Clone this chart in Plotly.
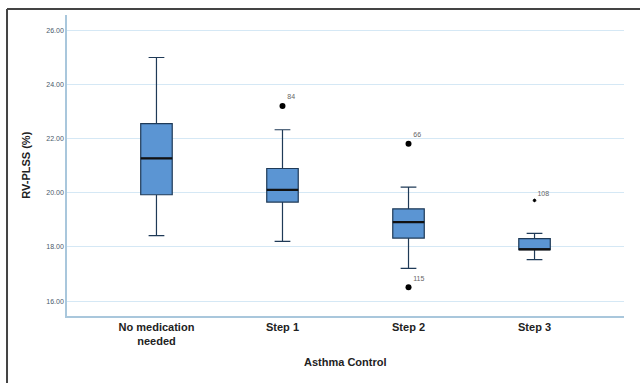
import plotly.graph_objects as go

categories = ["No medication<br>needed", "Step 1", "Step 2", "Step 3"]
lower_whisker = [18.42, 18.21, 17.21, 17.53]
q1 = [19.93, 19.66, 18.33, 17.90]
median = [21.27, 20.11, 18.92, 17.91]
q3 = [22.56, 20.90, 19.41, 18.31]
upper_whisker = [25.00, 22.33, 20.21, 18.50]

outlier_cat = ["Step 1", "Step 2", "Step 2"]
outlier_val = [23.21, 21.81, 16.51]
outlier_lbl = ["84", "66", "115"]
extreme_cat = ["Step 3"]
extreme_val = [19.72]
extreme_lbl = ["108"]

ytick_vals = [16, 18, 20, 22, 24, 26]
ytick_text = ["16.00", "18.00", "20.00", "22.00", "24.00", "26.00"]

BOX_FILL = "#5b95d3"
BOX_LINE = "#1f3a57"
FONT = "Liberation Sans, Arial, sans-serif"

fig = go.Figure()
fig.add_trace(go.Box(
    x=categories, q1=q1, median=median, q3=q3,
    lowerfence=lower_whisker, upperfence=upper_whisker,
    fillcolor=BOX_FILL, line=dict(color=BOX_LINE, width=1.2),
    width=0.25, whiskerwidth=0.5, boxpoints=False, showlegend=False,
    hoverinfo="skip",
))
# thicker median lines
for i, m in enumerate(median):
    fig.add_shape(type="line", xref="x", yref="y", x0=i - 0.125, x1=i + 0.125,
                  y0=m, y1=m, line=dict(color="#111111", width=2.2))

fig.add_trace(go.Scatter(
    x=outlier_cat, y=outlier_val, mode="markers+text", text=outlier_lbl,
    textposition="top right", textfont=dict(size=7, color="#666666", family=FONT),
    marker=dict(color="black", size=6), showlegend=False, hoverinfo="skip",
))
fig.add_trace(go.Scatter(
    x=extreme_cat, y=extreme_val, mode="markers+text", text=extreme_lbl,
    textposition="top right", textfont=dict(size=7, color="#666666", family=FONT),
    marker=dict(color="black", size=3, symbol="asterisk-open",
                line=dict(color="black", width=1)),
    showlegend=False, hoverinfo="skip",
))

fig.update_layout(
    width=640, height=383,
    margin=dict(l=67, r=16, t=15, b=66.5, autoexpand=False),
    paper_bgcolor="white", plot_bgcolor="white",
    font=dict(family=FONT, color="#222222"),
    xaxis=dict(
        type="category", range=[-0.71, 3.71], automargin=False,
        showgrid=False, showline=True, linecolor="#a9c7dc", linewidth=1.5,
        ticks="", tickfont=dict(size=11, color="#222222", family=FONT),
        tickprefix="<b>", ticksuffix="</b>",
    ),
    yaxis=dict(
        range=[15.45, 26.57], tickvals=ytick_vals, ticktext=ytick_text, automargin=False,
        showgrid=True, gridcolor="#d5e8f5", gridwidth=1,
        showline=True, linecolor="#a9c7dc", linewidth=1.5, zeroline=False,
        ticks="", tickfont=dict(size=7, color="#4a5a6a", family=FONT),
    ),
    annotations=[
        dict(text="<b>Asthma Control</b>", xref="paper", yref="paper", x=0.5, y=-0.153,
             showarrow=False, font=dict(size=11, family=FONT, color="#222222"),
             xanchor="center", yanchor="middle"),
        dict(text="<b>RV-PLSS (%)</b>", xref="paper", yref="paper", x=-0.075, y=0.5,
             textangle=-90, showarrow=False, font=dict(size=11, family=FONT, color="#222222"),
             xanchor="center", yanchor="middle"),
    ],
)

# outer frame (top and left edges)
fig.add_shape(type="line", xref="paper", yref="paper", x0=-0.1077, x1=1.05, y0=1.02, y1=1.02,
              line=dict(color="#444444", width=2))
fig.add_shape(type="line", xref="paper", yref="paper", x0=-0.1077, x1=-0.1077, y0=1.02, y1=-0.25,
              line=dict(color="#444444", width=2))

fig.write_html("out.html", config={"displayModeBar": False},
               post_script="document.body.style.margin='0';")
